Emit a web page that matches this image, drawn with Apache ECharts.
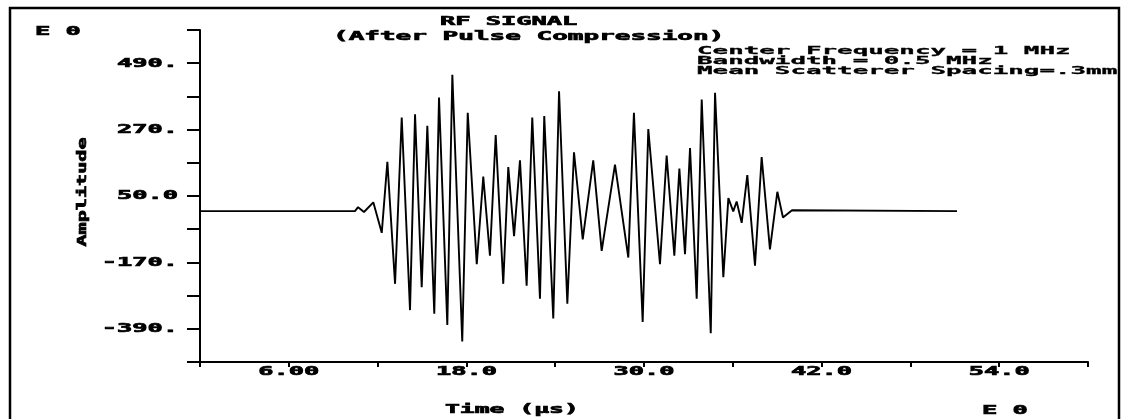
<!DOCTYPE html>
<html><head><meta charset="utf-8">
<script src="https://cdn.jsdelivr.net/npm/echarts@6.0.0/dist/echarts.min.js"></script>
<style>html,body{margin:0;padding:0;background:#fff}#c{width:1130px;height:419px}</style>
</head><body><div id="c"></div>
<script>
// ---- data ----
const times = [0, 10.47, 10.68, 11.08, 11.71, 12.28, 12.66, 13.18, 13.63, 14.19, 14.53, 14.98, 15.36, 15.83,
  16.15, 16.71, 17.05, 17.72, 18.09, 18.70, 19.14, 19.59, 19.98, 20.49,
  20.83, 21.22, 21.62, 22.07, 22.45, 22.97, 23.26, 23.87, 24.26, 24.82,
  25.27, 25.86, 26.57, 27.14, 27.48, 28.04, 28.94, 29.32, 29.91, 30.29,
  31.08, 31.53, 32.05, 32.39, 32.77, 33.11, 33.56, 33.90, 34.51, 34.80,
  35.36, 35.70, 36.03, 36.26, 36.60, 36.98, 37.50, 37.95, 38.51, 39.01,
  39.39, 40.0, 51.15];
const amps = [0, 0, 13, -3, 29, -72, 163, -241, 310, -328, 321, -252, 283, -340,
  376, -377, 452, -432, 326, -176, 114, -148, 252, -241,
  146, -83, 168, -247, 310, -290, 315, -356, 397, -307,
  195, -94, 168, -132, -23, 154, -154, 326, -367, 272,
  -176, 184, -148, 141, -143, 209, -290, 370, -405, 392,
  -219, 43, -1, 32, -39, 119, -181, 179, -127, 64,
  -21, 3, 0];
const xTickValues = [6, 18, 30, 42, 54];
const xTickLabels = ['6.00', '18.0', '30.0', '42.0', '54.0'];
const yTickValues = [490, 270, 50, -170, -390];
const yTickLabels = ['490.', '270.', '50.0', '-170.', '-390.'];
const titleLines = ['RF SIGNAL', '(After Pulse Compression)'];
const noteLines = ['Center Frequency = 1 MHz', 'Bandwidth = 0.5 MHz', 'Mean Scatterer Spacing=.3mm'];
const xName = 'Time (\u00b5s)';
const yName = 'Amplitude';
const exponentLabel = 'E 0';

// ---- chart ----
const chart = echarts.init(document.getElementById('c'), null, {renderer: 'canvas'});
const axisStyle = {color: '#000', width: 2};
chart.setOption({
  animation: false,
  backgroundColor: '#fff',
  grid: {left: 200, right: 42, top: 30, bottom: 57},
  xAxis: {
    type: 'value', min: 0, max: 60, interval: 6,
    axisLine: {show: true, onZero: false, lineStyle: axisStyle},
    axisTick: {show: true, length: 5, lineStyle: axisStyle},
    axisLabel: {show: false}, splitLine: {show: false}
  },
  yAxis: {
    type: 'value', min: -500, max: 600, interval: 110,
    axisLine: {show: true, onZero: false, lineStyle: axisStyle},
    axisTick: {show: true, length: 13, lineStyle: axisStyle},
    axisLabel: {show: false}, splitLine: {show: false}
  },
  series: [{
    type: 'line',
    data: times.map((t, i) => [t, amps[i]]),
    showSymbol: false,
    lineStyle: {color: '#000', width: 1.9},
    animation: false
  }]
});

function txt(str, x, y, align, size, sx, extra, lw) {
  return Object.assign({
    type: 'text', x: x, y: y, scaleX: sx, z: 100,
    style: {text: str, fontSize: size, fontWeight: 'bold', fontFamily: '"DejaVu Sans Mono", monospace',
      fill: '#000', stroke: '#000', lineWidth: lw == null ? 0.7 : lw, textAlign: align, textVerticalAlign: 'middle'}
  }, extra || {});
}
const g = [];
xTickValues.forEach((v, i) => {
  const p = chart.convertToPixel({gridIndex: 0}, [v, -500]);
  g.push(txt(xTickLabels[i], p[0], p[1] + 10, 'center', 13, 1.95));
});
yTickValues.forEach((v, i) => {
  const p = chart.convertToPixel({gridIndex: 0}, [0, v]);
  g.push(txt(yTickLabels[i], p[0] - 22, p[1], 'right', 13, 1.95));
});
g.push(txt(titleLines[0], 440, 22, 'left', 13, 1.95));
g.push(txt(titleLines[1], 333, 37, 'left', 13, 2.0));
noteLines.forEach((s, i) => g.push(txt(s, 697, 51 + i * 10, 'left', 11, 2.35, null, 0.3)));
g.push(txt(exponentLabel, 35, 32, 'left', 13, 1.95));
g.push(txt(exponentLabel, 982, 411, 'left', 13, 1.95));
g.push(txt(xName, 445, 410, 'left', 13, 1.9));
g.push(txt(yName, 83, 192, 'center', 13, 1.55, {rotation: Math.PI / 2}));
g.push({type: 'rect', z: 200, shape: {x: 10, y: 8, width: 1109, height: 440},
  style: {fill: 'transparent', stroke: '#000', lineWidth: 2.5}});
chart.setOption({graphic: g});
</script></body></html>
